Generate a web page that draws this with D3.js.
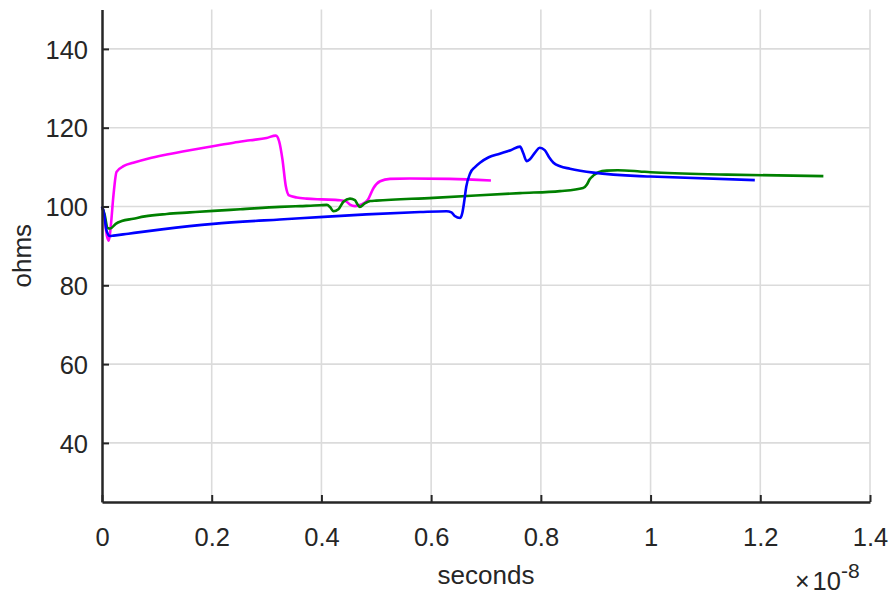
<!DOCTYPE html>
<html>
<head>
<meta charset="utf-8">
<script src="https://cdn.jsdelivr.net/npm/d3@7"></script>
<style>
  body { margin: 0; background: #fff; }
  svg text { font-family: "Liberation Sans", Arial, Helvetica, sans-serif; fill: #262626; }
</style>
</head>
<body>
<svg id="chart"></svg>
<script>
// time values are in units of 1e-8 seconds (axis shows the x10^-8 multiplier)
const xTicks = [0, 0.2, 0.4, 0.6, 0.8, 1, 1.2, 1.4];
const yTicks = [40, 60, 80, 100, 120, 140];

const magentaTrace = [
  [0, 100], [0.004, 98], [0.009, 92.5], [0.0125, 91.3], [0.016, 95], [0.021, 103], [0.0265, 108.8],
  [0.04, 110.3], [0.057, 111.1], [0.085, 112.2], [0.118, 113.2], [0.16, 114.3], [0.202, 115.3],
  [0.24, 116.2], [0.27, 116.8], [0.3, 117.4], [0.317, 118.0], [0.323, 116.5], [0.329, 111.9],
  [0.335, 105.2], [0.341, 102.8], [0.355, 102.3], [0.373, 102.0], [0.4, 101.8], [0.434, 101.6],
  [0.445, 101.3], [0.452, 100.5], [0.461, 100.1], [0.473, 100.5], [0.485, 101.8], [0.495, 104.7],
  [0.507, 106.4], [0.525, 107.0], [0.561, 107.1], [0.634, 107.0], [0.709, 106.6]
];

const blueTrace = [
  [0, 100], [0.004, 98], [0.008, 94], [0.0146, 92.5], [0.021, 92.6], [0.048, 93.1], [0.109, 94.2],
  [0.203, 95.6], [0.324, 96.7], [0.361, 97.0], [0.482, 98.0], [0.58, 98.6], [0.628, 98.8],
  [0.637, 98.5], [0.643, 97.6], [0.653, 97.1], [0.657, 98.5], [0.66, 101], [0.664, 105],
  [0.671, 108.4], [0.68, 110.0], [0.689, 111.1], [0.705, 112.5], [0.725, 113.4], [0.745, 114.3],
  [0.762, 115.2], [0.768, 113.5], [0.774, 111.5], [0.78, 112.0], [0.79, 113.8], [0.798, 114.9],
  [0.807, 114.3], [0.815, 112.5], [0.823, 111.1], [0.835, 110.2], [0.853, 109.6], [0.896, 108.6],
  [0.98, 107.7], [1.0, 107.6], [1.19, 106.7]
];

const greenTrace = [
  [0, 100], [0.005, 97.8], [0.01, 94.6], [0.015, 94.4], [0.025, 95.6], [0.036, 96.3], [0.057, 96.9],
  [0.078, 97.5], [0.118, 98.1], [0.16, 98.5], [0.203, 98.9], [0.252, 99.3], [0.324, 99.9],
  [0.361, 100.1], [0.397, 100.3], [0.41, 100.4], [0.416, 99.8], [0.422, 98.8], [0.431, 99.3],
  [0.44, 101.2], [0.452, 102.0], [0.461, 101.6], [0.466, 100.5], [0.47, 99.9], [0.479, 100.8],
  [0.489, 101.4], [0.5, 101.5], [0.604, 102.2], [0.762, 103.4], [0.835, 103.9], [0.877, 104.7],
  [0.884, 105.6], [0.889, 106.9], [0.896, 107.9], [0.905, 108.7], [0.92, 109.1], [0.94, 109.2],
  [0.98, 108.9], [1.0, 108.7], [1.139, 108.1], [1.315, 107.7]
];

const traces = [
  { name: 'magenta', color: '#ff00ff', values: magentaTrace },
  { name: 'green', color: '#008000', values: greenTrace },
  { name: 'blue', color: '#0000ff', values: blueTrace }
];

const width = 892, height = 596;
const margin = { top: 9.5, right: 22, bottom: 94, left: 102 };
const innerW = width - margin.left - margin.right;
const innerH = height - margin.top - margin.bottom;

const svg = d3.select('#chart')
    .attr('width', width)
    .attr('height', height);

const chart = svg.append('g')
    .attr('transform', `translate(${margin.left},${margin.top})`);

const xScale = d3.scaleLinear().domain([0, 1.4]).range([0, innerW]);
const yScale = d3.scaleLinear().domain([25, 150]).range([innerH, 0]);

// gridlines
chart.append('g')
    .selectAll('line')
    .data(xTicks.filter(d => d > 0))
  .join('line')
    .attr('x1', d => xScale(d)).attr('x2', d => xScale(d))
    .attr('y1', 0).attr('y2', innerH)
    .attr('stroke', '#dbdbdb').attr('stroke-width', 1.6);

chart.append('g')
    .selectAll('line')
    .data(yTicks)
  .join('line')
    .attr('x1', 0).attr('x2', innerW)
    .attr('y1', d => yScale(d)).attr('y2', d => yScale(d))
    .attr('stroke', '#dbdbdb').attr('stroke-width', 1.6);

// traces
const line = d3.line()
    .x(d => xScale(d[0]))
    .y(d => yScale(d[1]))
    .curve(d3.curveMonotoneX);

chart.selectAll('.trace')
    .data(traces)
  .join('path')
    .attr('class', 'trace')
    .attr('fill', 'none')
    .attr('stroke', d => d.color)
    .attr('stroke-width', 2.6)
    .attr('stroke-linejoin', 'round')
    .attr('d', d => line(d.values));

// axes (ticks point inward)
const xAxis = d3.axisBottom(xScale)
    .tickValues(xTicks)
    .tickFormat(d3.format('~g'))
    .tickSizeInner(-7)
    .tickSizeOuter(0)
    .tickPadding(26);

const yAxis = d3.axisLeft(yScale)
    .tickValues(yTicks)
    .tickSizeInner(-7)
    .tickSizeOuter(0)
    .tickPadding(14);

const xAxisG = chart.append('g')
    .attr('transform', `translate(0,${innerH})`)
    .call(xAxis);

const yAxisG = chart.append('g')
    .call(yAxis);

[xAxisG, yAxisG].forEach(g => {
  g.select('.domain').attr('stroke', '#262626').attr('stroke-width', 2.5);
  g.selectAll('.tick line').attr('stroke', '#262626').attr('stroke-width', 2);
  g.selectAll('.tick text')
      .style('font-size', '25.5px')
      .style('fill', '#262626');
});
yAxisG.selectAll('.tick text').attr('dy', '0.36em');

// axis titles
svg.append('text')
    .attr('x', margin.left + innerW / 2)
    .attr('y', 584)
    .attr('text-anchor', 'middle')
    .style('font-size', '26px')
    .text('seconds');

svg.append('text')
    .attr('transform', `translate(31,${margin.top + innerH / 2}) rotate(-90)`)
    .attr('text-anchor', 'middle')
    .style('font-size', '26px')
    .text('ohms');

// x exponent multiplier
const expo = svg.append('text')
    .attr('x', 795)
    .attr('y', 590);
expo.append('tspan').style('font-size', '25px').text('\u00d7');
expo.append('tspan').attr('dx', 3).style('font-size', '25.5px').text('10');
expo.append('tspan').attr('dy', -12).style('font-size', '21px').text('-8');
</script>
</body>
</html>
